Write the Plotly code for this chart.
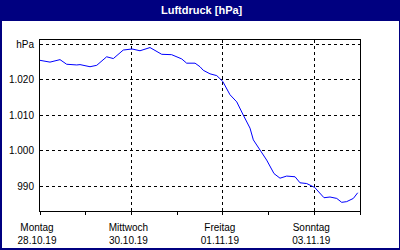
import pandas as pd
import plotly.graph_objects as go

# ---- data ----
start = "2019-10-28 00:00"
hours = [0, 5.25, 10.5, 14, 19.3, 21, 26.25, 29.8, 35, 38.5, 43.7, 48.3, 52.5,
         57.75, 63.9, 69.1, 74.4, 77, 81.4, 84, 85.7, 89.25, 92.8, 95.9, 99.75,
         103.3, 106.7, 110.25, 112, 115.1, 119, 122.85, 126, 129.5, 133.9, 136.5,
         140, 144.2, 149.1, 152.25, 155.8, 158.4, 161, 164.5, 166.8]
pressure = [1025.4, 1024.9, 1025.6, 1024.3, 1024.1, 1024.2, 1023.6, 1024.0,
            1026.4, 1025.9, 1028.3, 1028.6, 1028.1, 1029.0, 1027.1, 1027.0,
            1025.8, 1024.6, 1024.6, 1023.6, 1022.6, 1021.6, 1021.1, 1019.5,
            1015.7, 1013.7, 1010.0, 1006.3, 1003.0, 1000.4, 997.3, 993.5,
            992.2, 992.8, 992.6, 990.9, 990.7, 989.6, 986.7, 986.9, 986.5,
            985.4, 985.6, 986.5, 988.1]
x_tick_dates = ["2019-10-28", "2019-10-30", "2019-11-01", "2019-11-03"]
x_tick_days = ["Montag", "Mittwoch", "Freitag", "Sonntag"]
x_tick_labels = ["28.10.19", "30.10.19", "01.11.19", "03.11.19"]
y_tick_vals = [990, 1000, 1010, 1020, 1030]
y_tick_text = ["990", "1.000", "1.010", "1.020", "hPa"]
title = "Luftdruck [hPa]"

times = pd.Timestamp(start) + pd.to_timedelta(hours, unit="h")

W, H = 400, 250
L, R, T, B = 40, 40, 40, 39
pw, ph = W - L - R, H - T - B


def px(xp):
    return (xp - L) / pw


def py(yp):
    return (H - B - yp) / ph


FONT = "Liberation Sans, Arial, sans-serif"
NAVY = "#000080"

fig = go.Figure()
fig.add_trace(go.Scatter(x=times, y=pressure, mode="lines",
                         line=dict(color="#0000ff", width=1),
                         hoverinfo="skip", showlegend=False))
fig.add_trace(go.Scatter(x=times, y=pressure, mode="lines", xaxis="x2",
                         line=dict(color="rgba(0,0,0,0)", width=0),
                         hoverinfo="skip", showlegend=False))

xrange = ["2019-10-28 00:00", "2019-11-04 00:00"]
fig.update_layout(
    width=W, height=H,
    margin=dict(l=L, r=R, t=T, b=B, pad=0, autoexpand=False),
    paper_bgcolor=NAVY,
    plot_bgcolor="white",
    font=dict(family=FONT, size=10, color="black"),
    showlegend=False,
    xaxis=dict(
        type="date", range=xrange, automargin=False,
        tickvals=x_tick_dates, ticktext=x_tick_days,
        ticks="outside", ticklen=3, tickwidth=1, tickcolor="black",
        ticklabelstandoff=4, ticklabelshift=-3,
        showgrid=True, gridcolor="black", gridwidth=1, griddash="3px,3px",
        showline=True, linecolor="black", linewidth=1, mirror=True,
        zeroline=False,
        minor=dict(dtick=86400000, ticks="outside", ticklen=3,
                   tickcolor="black", showgrid=False),
    ),
    xaxis2=dict(
        type="date", range=xrange, overlaying="x", anchor="y", side="bottom",
        automargin=False,
        tickvals=x_tick_dates, ticktext=x_tick_labels,
        ticks="", ticklabelstandoff=22, ticklabelshift=-3,
        showgrid=False, showline=False, zeroline=False,
    ),
    yaxis=dict(
        range=[982.96, 1031.13], automargin=False,
        tickvals=y_tick_vals, ticktext=y_tick_text,
        ticks="", ticklabelstandoff=3,
        showgrid=True, gridcolor="black", gridwidth=1, griddash="3px,3px",
        showline=True, linecolor="black", linewidth=1, mirror=True,
        zeroline=False,
    ),
    shapes=[dict(type="rect", xref="paper", yref="paper", layer="below",
                 x0=px(2), x1=px(399), y0=py(248), y1=py(21),
                 fillcolor="white", line=dict(width=0))],
    annotations=[dict(text="<b>" + title + "</b>", xref="paper", yref="paper",
                      x=px(202), y=py(10), xanchor="center", yanchor="middle",
                      showarrow=False,
                      font=dict(family=FONT, size=11, color="white"))],
)

fig.write_html("out.html")
